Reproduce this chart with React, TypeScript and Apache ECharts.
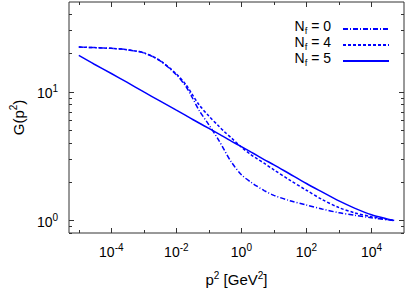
import React, { useEffect, useRef } from 'react';
import * as echarts from 'echarts';

const p2 = [1e-5, 3e-5, 1e-4, 3e-4, 1e-3, 3e-3, 1e-2, 2e-2, 3e-2, 5e-2, 0.1, 0.2, 0.3, 0.5, 1, 2, 3, 5, 10, 30, 100, 300, 1e3, 3e3, 1e4, 3e4, 5e4];
const gNf0 = [22.3, 22.1, 21.8, 21.3, 20.1, 17.6, 13.6, 10.96, 9.16, 7.19, 5.55, 4.22, 3.52, 2.83, 2.27, 1.98, 1.85, 1.71, 1.57, 1.43, 1.32, 1.23, 1.15, 1.1, 1.05, 1.014, 1.0];
const gNf4 = [22.3, 22.1, 21.8, 21.3, 20.1, 17.7, 13.8, 11.35, 9.66, 7.94, 6.49, 5.43, 4.91, 4.37, 3.72, 3.24, 3.03, 2.79, 2.48, 2.07, 1.72, 1.46, 1.26, 1.15, 1.07, 1.02, 1.0];
const gNf5 = [19.2, 16.4, 13.9, 11.9, 10.0, 8.55, 7.21, 6.54, 6.16, 5.73, 5.2, 4.71, 4.45, 4.13, 3.75, 3.4, 3.21, 2.98, 2.71, 2.31, 1.94, 1.67, 1.42, 1.25, 1.11, 1.03, 1.0];
const seriesNames = ['N_f = 0', 'N_f = 4', 'N_f = 5'];

const xMajorVals = [1e-4, 1e-2, 1, 100, 1e4];
const xMinorVals = [1e-5, 1e-3, 1e-1, 10, 1e3];
const yMajorVals = [1, 10];
const yMinorVals = [0.8, 0.9, 2, 3, 4, 5, 6, 7, 8, 9, 20, 30, 40];

const X_MIN = 5e-6;
const X_MAX = 1e5;
const Y_MIN = 0.8;
const Y_MAX = 50;

const FONT = 'Liberation Sans, Arial, Helvetica, sans-serif';
const BLUE = '#0000ff';
const AXIS = '#333333';

function powLabel(v: number) {
  const k = Math.round(Math.log10(v));
  return `{b|10}{s|${k}}`;
}

export default function App() {
  const ref = useRef<HTMLDivElement>(null);
  useEffect(() => {
    if (!ref.current) return;
    const chart = echarts.init(ref.current, undefined, { renderer: 'svg' });
    const labelRich = {
      b: { fontSize: 14, fontFamily: FONT, color: '#000', verticalAlign: 'bottom' },
      s: { fontSize: 10, fontFamily: FONT, color: '#000', verticalAlign: 'bottom', padding: [0, 0, 7, 0] },
    };
    const nameRich = {
      t: { fontSize: 15, fontFamily: FONT, color: '#000', verticalAlign: 'bottom' },
      s: { fontSize: 10, fontFamily: FONT, color: '#000', verticalAlign: 'bottom', padding: [0, 0, 7, 0] },
    };
    const lineSeries = (name: string, ys: number[], type: any) => ({
      name,
      type: 'line',
      xAxisIndex: 0,
      yAxisIndex: 0,
      data: p2.map((x, i) => [x, ys[i]]),
      symbol: 'none',
      smooth: 0.3,
      lineStyle: { color: BLUE, width: 1.5, type },
      itemStyle: { color: BLUE },
      silent: true,
    });
    const tickAxis = (dir: 'x' | 'y', position: string, vals: number[], len: number) => ({
      type: 'log',
      logBase: 10,
      min: dir === 'x' ? X_MIN : Y_MIN,
      max: dir === 'x' ? X_MAX : Y_MAX,
      position,
      axisLine: { show: false },
      splitLine: { show: false },
      axisTick: { show: true, inside: true, length: len, customValues: vals, lineStyle: { color: AXIS, width: 1 } },
      axisLabel: { show: false },
    });
    chart.setOption({
      animation: false,
      grid: {
        left: 69, right: 3, top: 2, bottom: 55,
        show: true, borderColor: AXIS, borderWidth: 1, backgroundColor: 'transparent',
        containLabel: false, outerBoundsMode: 'none',
      },
      xAxis: [
        {
          type: 'log',
          logBase: 10,
          min: X_MIN,
          max: X_MAX,
          position: 'bottom',
          axisLine: { show: false },
          splitLine: { show: false },
          axisTick: { show: true, inside: true, length: 5, customValues: xMajorVals, lineStyle: { color: AXIS, width: 1 } },
          axisLabel: {
            margin: 9,
            customValues: xMajorVals,
            formatter: (v: number) => powLabel(v),
            rich: labelRich,
          },
          name: '{t|p}{s|2}{t| [GeV}{s|2}{t|]}',
          nameLocation: 'middle',
          nameGap: 37,
          nameTextStyle: { rich: nameRich },
        },
        tickAxis('x', 'bottom', xMinorVals, 3),
        tickAxis('x', 'top', xMajorVals, 5),
        tickAxis('x', 'top', xMinorVals, 3),
      ],
      yAxis: [
        {
          type: 'log',
          logBase: 10,
          min: Y_MIN,
          max: Y_MAX,
          position: 'left',
          axisLine: { show: false },
          splitLine: { show: false },
          axisTick: { show: true, inside: true, length: 5, customValues: yMajorVals, lineStyle: { color: AXIS, width: 1 } },
          axisLabel: {
            margin: 11,
            customValues: yMajorVals,
            formatter: (v: number) => powLabel(v),
            rich: labelRich,
          },
          name: '{t|G(p}{s|2}{t|)}',
          nameLocation: 'middle',
          nameGap: 33,
          nameRotate: 90,
          nameTextStyle: { rich: nameRich },
        },
        tickAxis('y', 'left', yMinorVals, 3),
        tickAxis('y', 'right', yMajorVals, 5),
        tickAxis('y', 'right', yMinorVals, 3),
      ],
      legend: {
        data: seriesNames,
        orient: 'vertical',
        right: 17,
        top: 19,
        align: 'right',
        itemWidth: 46,
        itemHeight: 10,
        itemGap: 0,
        padding: 0,
        selectedMode: false,
        itemStyle: { opacity: 0, borderWidth: 0 },
        formatter: (name: string) => `{n|N}{f|f}{n| = ${name.split('= ')[1]}}{p|}`,
        textStyle: {
          color: '#000',
          fontSize: 14,
          lineHeight: 12,
          fontFamily: FONT,
          rich: {
            n: { fontSize: 14, fontFamily: FONT, color: '#000', verticalAlign: 'bottom', padding: [0, 0, 2, 0], lineHeight: 12 },
            f: { fontSize: 9.5, fontFamily: FONT, color: '#000', verticalAlign: 'bottom', lineHeight: 12 },
            p: { width: 7, fontSize: 9, lineHeight: 12 },
          },
        },
      },
      series: [
        lineSeries(seriesNames[0], gNf0, [5, 2, 1, 2]),
        lineSeries(seriesNames[1], gNf4, [3, 2]),
        lineSeries(seriesNames[2], gNf5, 'solid'),
      ],
    });
    return () => chart.dispose();
  }, []);
  return <div ref={ref} style={{ position: 'fixed', left: 0, top: 0, width: 407, height: 288, background: '#fff' }} />;
}
